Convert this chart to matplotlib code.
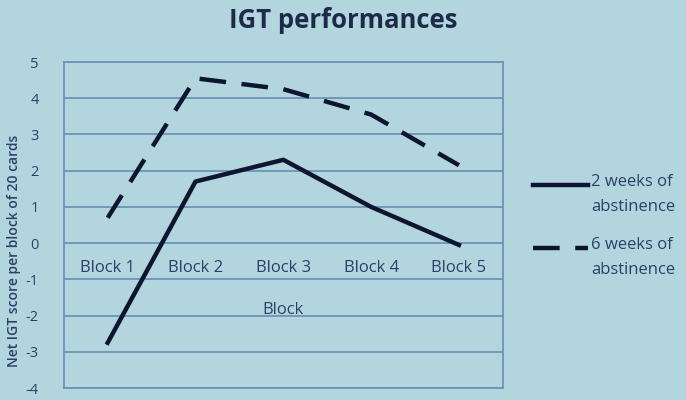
import matplotlib.pyplot as plt
from matplotlib.lines import Line2D

blocks = ["Block 1", "Block 2", "Block 3", "Block 4", "Block 5"]
two_weeks = [-2.75, 1.7, 2.3, 1.0, -0.05]
six_weeks = [0.7, 4.55, 4.25, 3.55, 2.15]
y_ticks = [5, 4, 3, 2, 1, 0, -1, -2, -3, -4]
series_names = ["2 weeks of\nabstinence", "6 weeks of\nabstinence"]

bg = "#b3d6de"
grid_col = "#6f93b8"
txt = "#2c3f6b"
line_col = "#0d1530"

plt.rcParams['font.family'] = ['Open Sans', 'DejaVu Sans']

fig = plt.figure(figsize=(6.86, 4.0), dpi=100, facecolor=bg)
ax = fig.add_axes([0.093, 0.03, 0.64, 0.815])
ax.set_facecolor(bg)

x = list(range(len(blocks)))
ax.plot(x, two_weeks, color=line_col, lw=3.2)
ax.plot(x, six_weeks, color=line_col, lw=3.2, dashes=(6, 3.5))

ax.set_xlim(-0.5, 4.5)
ax.set_ylim(-4, 5)
ax.set_yticks(y_ticks)
ax.set_yticklabels([str(v) for v in y_ticks], color=txt, fontsize=10.5)
ax.grid(axis='y', color=grid_col, lw=1.3)
ax.set_axisbelow(True)
for s in ax.spines.values():
    s.set_color(grid_col)
    s.set_linewidth(1.3)
ax.tick_params(axis='y', length=0, pad=18)

# category labels sit just under the zero line
ax.set_xticks([])
for i, b in enumerate(blocks):
    ax.text(i, -0.7, b, ha='center', va='center', color=txt, fontsize=12)
ax.text(2, -1.85, "Block", ha='center', va='center', color=txt, fontsize=12)

ax.set_ylabel("Net IGT score per block of 20 cards", color=txt, fontsize=10,
              fontweight='semibold')
ax.yaxis.set_label_coords(-0.098, 0.42)

fig.text(0.5, 0.95, "IGT performances", ha='center', va='center',
         fontsize=18.5, fontweight='bold', color="#1e2a4a")

# legend drawn by hand so the line sits on the first text row
leg_rows = [(185, None), (248, (6, 3.5))]
for (py, dash), name in zip(leg_rows, series_names):
    yf = 1 - py / 400
    ln = Line2D([533 / 686, 588 / 686], [yf, yf], transform=fig.transFigure,
                color=line_col, lw=3.2)
    if dash:
        ln.set_dashes(dash)
    fig.add_artist(ln)
    fig.text(591 / 686, yf + 0.028, name, ha='left', va='top', color=txt,
             fontsize=12, linespacing=1.75, transform=fig.transFigure)

fig.savefig("out.png", dpi=100, facecolor=bg)
